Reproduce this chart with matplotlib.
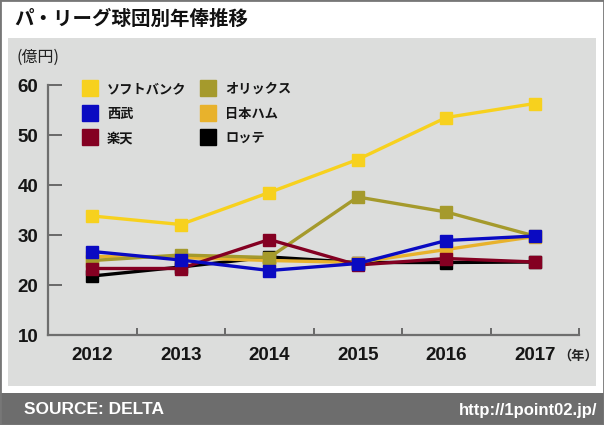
import matplotlib.pyplot as plt
from matplotlib.lines import Line2D
from matplotlib.patches import Rectangle

plt.rcParams['font.family'] = ['Noto Sans CJK JP', 'DejaVu Sans']

# データ（億円）
years = ['2012', '2013', '2014', '2015', '2016', '2017']
softbank = [33.8, 32.1, 38.5, 45.1, 53.5, 56.3]
orix = [24.9, 26.0, 25.5, 37.6, 34.6, 29.8]
seibu = [26.7, 25.0, 22.9, 24.3, 28.9, 29.8]
nipponham = [25.7, 25.5, 24.9, 24.5, 27.1, 29.7]
rakuten = [23.3, 23.3, 29.1, 24.0, 25.3, 24.6]
lotte = [21.8, 23.6, 25.6, 24.5, 24.5, 24.6]

teams = ['ソフトバンク', '西武', '楽天', 'オリックス', '日本ハム', 'ロッテ']
series = [softbank, seibu, rakuten, orix, nipponham, lotte]
colors = ['#f7d11e', '#0a0ac2', '#840022', '#a59a2c', '#e8b22c', '#000000']
zorders = [8, 9, 7, 6, 5, 4]

W, H = 604, 425
fig = plt.figure(figsize=(W / 100, H / 100), dpi=100)
fig.patch.set_facecolor('white')

# 背景パネル・フッター・外枠
fig.patches.append(Rectangle((8 / W, 1 - 386 / H), 588 / W, 348 / H,
                             transform=fig.transFigure, facecolor='#dcdddc',
                             edgecolor='none', zorder=-2))
fig.patches.append(Rectangle((0, 0), 1, 32 / H, transform=fig.transFigure,
                             facecolor='#6d6d6d', edgecolor='none', zorder=-2))
fig.patches.append(Rectangle((0, 0), 1, 1, transform=fig.transFigure,
                             facecolor='none', edgecolor='#777777',
                             linewidth=2, zorder=-1))

ax = fig.add_axes([48 / W, 1 - 335 / H, 531 / W, 250 / H])
ax.set_facecolor('none')

x = list(range(len(years)))
for vals, c, z in zip(series, colors, zorders):
    ax.plot(x, vals, color=c, linewidth=2.4, marker='s', markersize=8.5,
            markeredgecolor=c, zorder=z, clip_on=False)

ax.set_xlim(-0.5, 5.5)
ax.set_ylim(10, 60)

for s in ['top', 'right']:
    ax.spines[s].set_visible(False)
for s in ['left', 'bottom']:
    ax.spines[s].set_color('#6e6e6e')
    ax.spines[s].set_linewidth(1.6)

ax.set_yticks([10, 20, 30, 40, 50, 60])
ax.set_xticks(x)
ax.set_xticklabels(years)
ax.set_xticks([i - 0.5 for i in range(len(years) + 1)], minor=True)

ax.tick_params(axis='y', direction='in', length=10, width=1.2,
               color='#555555', pad=7)
ax.tick_params(axis='x', which='major', length=0, pad=9)
ax.tick_params(axis='x', which='minor', direction='in', length=5,
               width=1.2, color='#555555')
for lab in ax.get_xticklabels() + ax.get_yticklabels():
    lab.set_fontfamily(['Liberation Sans', 'DejaVu Sans'])
    lab.set_fontweight('bold')
    lab.set_fontsize(13.5)
    lab.set_color('#151515')

# 凡例
handles = [Line2D([0], [0], marker='s', linestyle='none', markersize=11,
                  markerfacecolor=c, markeredgecolor=c, label=t)
           for t, c in zip(teams, colors)]
leg = ax.legend(handles=handles, ncol=2, loc='upper left',
                bbox_to_anchor=(82 / W, 1 - 82 / H),
                bbox_transform=fig.transFigure, frameon=False,
                borderpad=0, borderaxespad=0, handlelength=1.2,
                handletextpad=0.7, labelspacing=0.8, columnspacing=1.05,
                prop={'family': ['Noto Sans CJK JP', 'DejaVu Sans'],
                      'weight': 'bold', 'size': 9.5})
for t in leg.get_texts():
    t.set_color('#151515')

# テキスト
fig.text(14 / W, 1 - 19 / H, 'パ・リーグ球団別年俸推移', fontsize=14,
         fontweight='bold', va='center', ha='left', color='#111111')
fig.text(16 / W, 1 - 57 / H, '(億円)', fontsize=11.5, va='center',
         ha='left', color='#222222')
fig.text(558 / W, 1 - 356 / H, '（年）', fontsize=9.5, fontweight='bold',
         va='center', ha='left', color='#222222')
fig.text(24 / W, 1 - 410 / H, 'SOURCE: DELTA', fontsize=12.5,
         fontweight='bold', va='center', ha='left', color='white',
         family=['Liberation Sans', 'DejaVu Sans'])
fig.text(597 / W, 1 - 410 / H, 'http://1point02.jp/', fontsize=12,
         fontweight='bold', va='center', ha='right', color='white',
         family=['Liberation Sans', 'DejaVu Sans'])

fig.savefig('out.png', dpi=100, facecolor='white')
